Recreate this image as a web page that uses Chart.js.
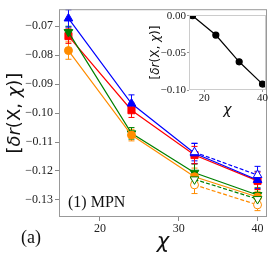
<!DOCTYPE html>
<html>
<head>
<meta charset="utf-8">
<script src="https://cdn.jsdelivr.net/npm/chart.js@4.4.1/dist/chart.umd.min.js"></script>
<style>
  body { margin: 0; background: #fff; }
  #wrap { position: relative; width: 278px; height: 259px; }
  #main { position: absolute; left: 0; top: 0; }
  #inset { position: absolute; left: 140px; top: 0; }
</style>
</head>
<body>
<div id="wrap">
  <canvas id="main" width="278" height="259"></canvas>
  <canvas id="inset" width="138" height="120"></canvas>
</div>
<script>
// main panel data
const chis = [16, 24, 32, 40];
const blueVals = [-0.0673, -0.0967, -0.1139, -0.1231];
const blueErr = [0.003, 0.003, 0.0035, 0.003];
const redVals = [-0.0734, -0.0990, -0.1145, -0.1234];
const redErr = [0.0025, 0.0025, 0.003, 0.003];
const greenVals = [-0.0720, -0.1070, -0.1206, -0.1283];
const greenErr = [0.002, 0.002, 0.003, 0.0025];
const orangeVals = [-0.0784, -0.1076, -0.1220, -0.1290];
const orangeErr = [0.003, 0.002, 0.003, 0.002];

// dashed (open marker) series, only at the two largest chi
const chisOpen = [32, 40];
const blueOpen = [-0.1135, -0.1214];
const blueOpenErr = [0.003, 0.003];
const greenOpen = [-0.1229, -0.1297];
const greenOpenErr = [0.002, 0.002];
const orangeOpen = [-0.1248, -0.1317];
const orangeOpenErr = [0.003, 0.002];

const yTicks = [-0.07, -0.08, -0.09, -0.10, -0.11, -0.12, -0.13];
const xTicks = [20, 30, 40];

// inset data
const insetChis = [16, 24, 32, 40];
const insetVals = [0.0, -0.026, -0.062, -0.092];
const insetYTicks = [0.0, -0.05, -0.10];
const insetXTicks = [20, 40];

const pts = (xs, ys) => xs.map((x, i) => ({ x: x, y: ys[i] }));
const fmt = v => (v < 0 ? '\u2212' : '') + Math.abs(v).toFixed(2);

function series(color, xs, ys, err, style, rot, open) {
  return {
    data: pts(xs, ys),
    err: err,
    borderColor: color,
    backgroundColor: color,
    pointBackgroundColor: open ? '#fff' : color,
    pointBorderColor: color,
    pointBorderWidth: 1,
    pointStyle: style,
    pointRotation: rot || 0,
    pointRadius: style === 'circle' ? 4 : 5,
    borderWidth: 1.2,
    borderDash: open ? [4, 2] : [],
    tension: 0
  };
}

const errorBars = {
  id: 'errorBars',
  beforeDatasetsDraw(chart) {
    const { ctx, chartArea, scales: { x, y } } = chart;
    ctx.save();
    ctx.beginPath();
    ctx.rect(chartArea.left, chartArea.top, chartArea.right - chartArea.left, chartArea.bottom - chartArea.top);
    ctx.clip();
    chart.data.datasets.forEach(ds => {
      if (!ds.err) return;
      ctx.strokeStyle = ds.borderColor;
      ctx.lineWidth = 1;
      ctx.setLineDash([]);
      ds.data.forEach((p, i) => {
        const px = x.getPixelForValue(p.x);
        const top = y.getPixelForValue(p.y + ds.err[i]);
        const bot = y.getPixelForValue(p.y - ds.err[i]);
        ctx.beginPath();
        ctx.moveTo(px, top); ctx.lineTo(px, bot);
        ctx.moveTo(px - 3, top); ctx.lineTo(px + 3, top);
        ctx.moveTo(px - 3, bot); ctx.lineTo(px + 3, bot);
        ctx.stroke();
      });
    });
    ctx.restore();
  }
};

function richText(ctx, parts, cx, cy, rot) {
  ctx.save();
  ctx.translate(cx, cy);
  ctx.rotate(rot);
  let total = 0;
  parts.forEach(p => { ctx.font = p[1]; total += ctx.measureText(p[0]).width; });
  let xx = -total / 2;
  ctx.textBaseline = 'middle';
  ctx.textAlign = 'left';
  ctx.fillStyle = '#111';
  parts.forEach(p => { ctx.font = p[1]; ctx.fillText(p[0], xx, 0); xx += ctx.measureText(p[0]).width; });
  ctx.restore();
}

function frame(color) {
  return {
    id: 'frame',
    afterDraw(chart) {
      const { ctx, chartArea: a } = chart;
      ctx.save();
      ctx.strokeStyle = color;
      ctx.lineWidth = 1;
      ctx.strokeRect(a.left + 0.5, a.top + 0.5, a.right - a.left - 1, a.bottom - a.top - 1);
      ctx.restore();
    }
  };
}

function yLabel(size) {
  const n = size + 'px "DejaVu Sans"', it = 'italic ' + size + 'px "DejaVu Sans"';
  return [['[', n], ['\u03b4r', it], ['(X, ', n], ['\u03c7', it], [')]', n]];
}

const mainTexts = {
  id: 'mainTexts',
  afterDraw(chart) {
    const { ctx, chartArea: a } = chart;
    richText(ctx, yLabel(18), 15, (a.top + a.bottom) / 2, -Math.PI / 2);
    richText(ctx, [['\u03c7', 'italic 21px "DejaVu Sans"']], (a.left + a.right) / 2, 243, 0);
    ctx.save();
    ctx.fillStyle = '#111';
    ctx.textBaseline = 'middle';
    ctx.font = '16px "Liberation Serif"';
    ctx.fillText('(1) MPN', 68, 203);
    ctx.font = '18px "Liberation Serif"';
    ctx.fillText('(a)', 21, 238);
    ctx.restore();
  }
};

const tickFont = { family: 'Liberation Serif', size: 12 };

new Chart(document.getElementById('main'), {
  type: 'line',
  data: {
    datasets: [
      series('green', chisOpen, greenOpen, greenOpenErr, 'triangle', 180, true),
      series('darkorange', chisOpen, orangeOpen, orangeOpenErr, 'circle', 0, true),
      series('blue', chisOpen, blueOpen, blueOpenErr, 'triangle', 0, true),
      series('darkorange', chis, orangeVals, orangeErr, 'circle', 0, false),
      series('green', chis, greenVals, greenErr, 'triangle', 180, false),
      series('blue', chis, blueVals, blueErr, 'triangle', 0, false),
      series('red', chis, redVals, redErr, 'rect', 0, false)
    ]
  },
  options: {
    responsive: false,
    animation: false,
    devicePixelRatio: 1,
    layout: { padding: { top: 9, right: 11, left: 0, bottom: 0 } },
    plugins: { legend: { display: false }, tooltip: { enabled: false } },
    scales: {
      x: {
        type: 'linear', min: 14.8, max: 41.2,
        afterFit: s => { s.height = 42; },
        afterBuildTicks: s => { s.ticks = xTicks.map(v => ({ value: v })); },
        ticks: { font: tickFont, color: '#222', padding: 1, maxRotation: 0, callback: v => String(v) },
        grid: { drawOnChartArea: false, drawTicks: true, tickLength: 4, color: '#888' },
        border: { display: false }
      },
      y: {
        type: 'linear', min: -0.1359, max: -0.0641,
        afterFit: s => { s.width = 59; },
        afterBuildTicks: s => { s.ticks = yTicks.map(v => ({ value: v })); },
        ticks: { font: tickFont, color: '#222', padding: 2, callback: v => fmt(v) },
        grid: { drawOnChartArea: false, drawTicks: true, tickLength: 4, color: '#888' },
        border: { display: false }
      }
    }
  },
  plugins: [errorBars, frame('#999'), mainTexts]
});

const insetTexts = {
  id: 'insetTexts',
  afterDraw(chart) {
    const { ctx, chartArea: a } = chart;
    richText(ctx, yLabel(12), 15.5, (a.top + a.bottom) / 2, -Math.PI / 2);
    richText(ctx, [['\u03c7', 'italic 14px "DejaVu Sans"']], (a.left + a.right) / 2, 110, 0);
  }
};

const insetFont = { family: 'Liberation Serif', size: 11 };

new Chart(document.getElementById('inset'), {
  type: 'line',
  data: {
    datasets: [{
      data: pts(insetChis, insetVals),
      borderColor: '#000',
      backgroundColor: '#000',
      pointRadius: 3,
      pointStyle: 'circle',
      borderWidth: 1.2,
      tension: 0
    }]
  },
  options: {
    responsive: false,
    animation: false,
    devicePixelRatio: 1,
    layout: { padding: { top: 15, right: 12, left: 0, bottom: 0 } },
    plugins: { legend: { display: false }, tooltip: { enabled: false } },
    scales: {
      x: {
        type: 'linear', min: 14.8, max: 41.2,
        afterFit: s => { s.height = 30; },
        afterBuildTicks: s => { s.ticks = insetXTicks.map(v => ({ value: v })); },
        ticks: { font: insetFont, color: '#222', padding: 0, maxRotation: 0, callback: v => String(v) },
        grid: { drawOnChartArea: false, drawTicks: true, tickLength: 2, color: '#999' },
        border: { display: false }
      },
      y: {
        type: 'linear', min: -0.1, max: 0.001,
        afterFit: s => { s.width = 49; },
        afterBuildTicks: s => { s.ticks = insetYTicks.map(v => ({ value: v })); },
        ticks: { font: insetFont, color: '#222', padding: 1, callback: v => fmt(v) },
        grid: { drawOnChartArea: false, drawTicks: true, tickLength: 2, color: '#999' },
        border: { display: false }
      }
    }
  },
  plugins: [frame('#ccc'), insetTexts]
});
</script>
</body>
</html>
